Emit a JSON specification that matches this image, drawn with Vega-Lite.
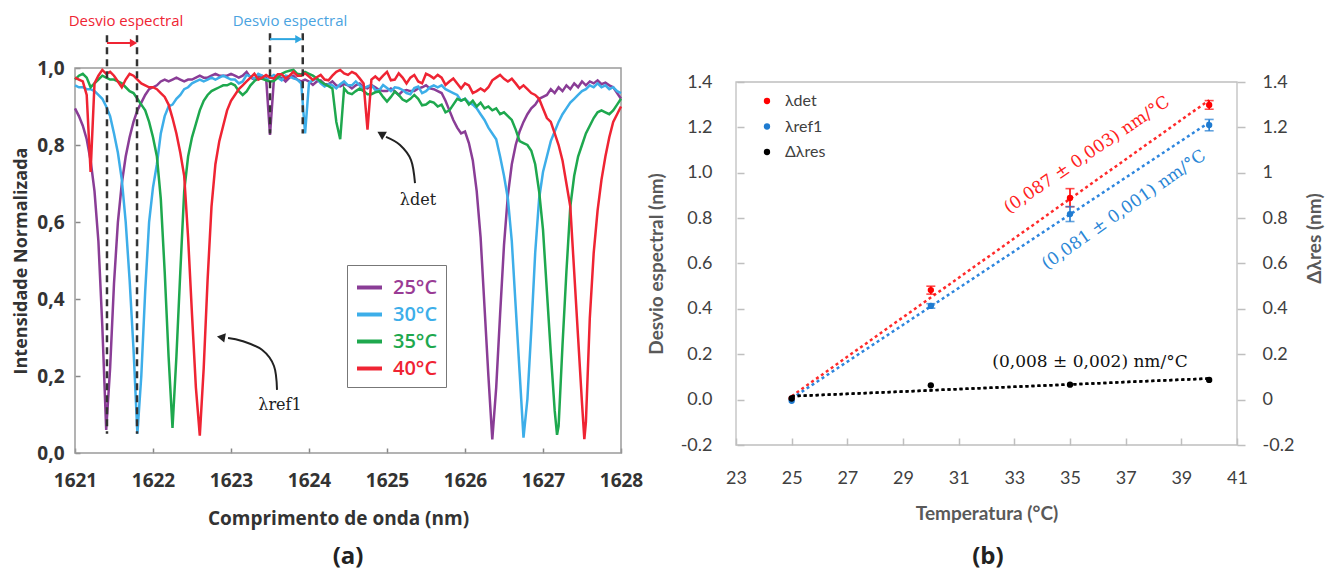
{
"$schema":"https://vega.github.io/schema/vega-lite/v6.json",
"width":1338,"height":580,"autosize":{"type":"none"},"padding":0,"background":"white",
"config":{"view":{"stroke":null},"axis":{"grid":false,"labelOverlap":false,"labelFlush":false}},
"resolve":{"scale":{"x":"independent","y":"independent","color":"independent"}},
"layer":[
{
"encoding":{
"x":{"field":"w","type":"quantitative","scale":{"domain":[1621,1628],"range":[75,621],"nice":false,"zero":false},
"axis":{"orient":"bottom","offset":-127,"values":[1621,1622,1623,1624,1625,1626,1627,1628],"format":"d","domain":false,"ticks":true,"tickSize":-5,"tickColor":"#888","tickWidth":1.5,"labelPadding":23,"labelFont":"Open Sans","labelFontSize":19,"labelFontWeight":"bold","labelColor":"#333","title":"Comprimento de onda (nm)","titleFont":"Open Sans","titleFontSize":19,"titleFontWeight":"bold","titleColor":"#333","titlePadding":19,"titleX":338}},
"y":{"field":"i","type":"quantitative","scale":{"domain":[0,1],"range":[453,68],"nice":false,"zero":false},
"axis":{"orient":"left","offset":-75,"values":[0,0.2,0.4,0.6,0.8,1],"labelExpr":"replace(format(datum.value,'.1f'),'.',',')","domain":false,"ticks":true,"tickSize":-5,"tickColor":"#888","tickWidth":1.5,"labelPadding":16,"labelFont":"Open Sans","labelFontSize":19,"labelFontWeight":"bold","labelColor":"#333","title":"Intensidade Normalizada","titleFont":"Open Sans","titleFontSize":18,"titleFontWeight":"bold","titleColor":"#333","titlePadding":6}}
},
"layer":[
{"data":{"values":[{"w":1621,"w2":1628,"i":0,"i2":1}]},"mark":{"type":"rect","filled":false,"stroke":"#9a9a9a","strokeWidth":1.5},"encoding":{"x2":{"field":"w2"},"y2":{"field":"i2"}}},
{"data":{"values":[
{"w":1621.00,"p":0.895,"b":0.955,"g":0.97,"r":0.975},
{"w":1621.05,"p":0.875,"b":0.95,"g":0.98,"r":0.97},
{"w":1621.10,"p":0.85,"b":0.95,"g":0.985,"r":0.965},
{"w":1621.15,"p":0.815,"b":0.945,"g":0.975,"r":0.93},
{"w":1621.20,"p":0.76,"b":0.945,"g":0.95,"r":0.73},
{"w":1621.25,"p":0.68,"b":0.94,"g":0.96,"r":0.96},
{"w":1621.30,"p":0.55,"b":0.93,"g":0.97,"r":0.98},
{"w":1621.35,"p":0.33,"b":0.92,"g":0.98,"r":0.995},
{"w":1621.40,"p":0.06,"b":0.90,"g":0.975,"r":0.985},
{"w":1621.45,"p":0.22,"b":0.875,"g":0.97,"r":0.99},
{"w":1621.50,"p":0.44,"b":0.83,"g":0.97,"r":0.98},
{"w":1621.55,"p":0.60,"b":0.78,"g":0.965,"r":0.965},
{"w":1621.60,"p":0.70,"b":0.71,"g":0.96,"r":0.95},
{"w":1621.65,"p":0.77,"b":0.60,"g":0.95,"r":0.97},
{"w":1621.70,"p":0.82,"b":0.45,"g":0.94,"r":0.985},
{"w":1621.75,"p":0.86,"b":0.27,"g":0.935,"r":0.98},
{"w":1621.80,"p":0.89,"b":0.05,"g":0.92,"r":0.97},
{"w":1621.85,"p":0.91,"b":0.20,"g":0.905,"r":0.96},
{"w":1621.90,"p":0.93,"b":0.42,"g":0.89,"r":0.955},
{"w":1621.95,"p":0.945,"b":0.60,"g":0.86,"r":0.95},
{"w":1622.00,"p":0.95,"b":0.69,"g":0.82,"r":0.95},
{"w":1622.05,"p":0.955,"b":0.75,"g":0.77,"r":0.945},
{"w":1622.10,"p":0.965,"b":0.83,"g":0.66,"r":0.935},
{"w":1622.15,"p":0.97,"b":0.875,"g":0.47,"r":0.925},
{"w":1622.20,"p":0.965,"b":0.90,"g":0.25,"r":0.905},
{"w":1622.25,"p":0.97,"b":0.905,"g":0.065,"r":0.87},
{"w":1622.30,"p":0.975,"b":0.92,"g":0.25,"r":0.83},
{"w":1622.35,"p":0.97,"b":0.93,"g":0.47,"r":0.78},
{"w":1622.40,"p":0.965,"b":0.945,"g":0.68,"r":0.72},
{"w":1622.45,"p":0.97,"b":0.95,"g":0.77,"r":0.56},
{"w":1622.50,"p":0.97,"b":0.96,"g":0.82,"r":0.36},
{"w":1622.55,"p":0.975,"b":0.965,"g":0.855,"r":0.17},
{"w":1622.60,"p":0.98,"b":0.97,"g":0.89,"r":0.045},
{"w":1622.65,"p":0.975,"b":0.965,"g":0.915,"r":0.22},
{"w":1622.70,"p":0.975,"b":0.97,"g":0.93,"r":0.45},
{"w":1622.75,"p":0.98,"b":0.975,"g":0.94,"r":0.64},
{"w":1622.80,"p":0.985,"b":0.97,"g":0.945,"r":0.75},
{"w":1622.85,"p":0.98,"b":0.975,"g":0.95,"r":0.81},
{"w":1622.90,"p":0.98,"b":0.98,"g":0.955,"r":0.85},
{"w":1622.95,"p":0.98,"b":0.975,"g":0.955,"r":0.89},
{"w":1623.00,"p":0.985,"b":0.97,"g":0.96,"r":0.915},
{"w":1623.05,"p":0.98,"b":0.97,"g":0.955,"r":0.93},
{"w":1623.10,"p":0.975,"b":0.96,"g":0.94,"r":0.945},
{"w":1623.15,"p":0.98,"b":0.965,"g":0.93,"r":0.955},
{"w":1623.20,"p":0.99,"b":0.982,"g":0.939,"r":0.965},
{"w":1623.25,"p":0.975,"b":0.978,"g":0.955,"r":0.975},
{"w":1623.30,"p":0.97,"b":0.972,"g":0.966,"r":0.985},
{"w":1623.35,"p":0.98,"b":0.985,"g":0.973,"r":0.97},
{"w":1623.40,"p":0.98,"b":0.98,"g":0.972,"r":0.975},
{"w":1623.45,"p":0.975,"b":0.97,"g":0.968,"r":0.982},
{"w":1623.50,"p":0.826,"b":0.975,"g":0.965,"r":0.975},
{"w":1623.55,"p":0.97,"b":0.982,"g":0.966,"r":0.973},
{"w":1623.60,"p":0.975,"b":0.975,"g":0.975,"r":0.984},
{"w":1623.65,"p":0.975,"b":0.968,"g":0.985,"r":0.984},
{"w":1623.70,"p":0.965,"b":0.98,"g":0.99,"r":0.973},
{"w":1623.75,"p":0.975,"b":0.978,"g":0.993,"r":0.98},
{"w":1623.80,"p":0.98,"b":0.973,"g":0.995,"r":0.99},
{"w":1623.85,"p":0.97,"b":0.97,"g":0.985,"r":0.98},
{"w":1623.90,"p":0.965,"b":0.96,"g":0.983,"r":0.98},
{"w":1623.95,"p":0.97,"b":0.83,"g":0.99,"r":0.986},
{"w":1624.00,"p":0.965,"b":0.962,"g":0.985,"r":0.978},
{"w":1624.05,"p":0.956,"b":0.968,"g":0.98,"r":0.969},
{"w":1624.10,"p":0.965,"b":0.973,"g":0.973,"r":0.976},
{"w":1624.15,"p":0.968,"b":0.96,"g":0.965,"r":0.982},
{"w":1624.20,"p":0.958,"b":0.952,"g":0.958,"r":0.97},
{"w":1624.25,"p":0.958,"b":0.958,"g":0.953,"r":0.968},
{"w":1624.30,"p":0.965,"b":0.955,"g":0.947,"r":0.98},
{"w":1624.35,"p":0.955,"b":0.947,"g":0.86,"r":0.99},
{"w":1624.40,"p":0.952,"b":0.958,"g":0.815,"r":0.995},
{"w":1624.45,"p":0.958,"b":0.965,"g":0.947,"r":0.986},
{"w":1624.50,"p":0.955,"b":0.955,"g":0.935,"r":0.982},
{"w":1624.55,"p":0.947,"b":0.955,"g":0.932,"r":0.99},
{"w":1624.60,"p":0.955,"b":0.965,"g":0.94,"r":0.985},
{"w":1624.65,"p":0.96,"b":0.955,"g":0.947,"r":0.973},
{"w":1624.70,"p":0.95,"b":0.947,"g":0.94,"r":0.96},
{"w":1624.75,"p":0.947,"b":0.952,"g":0.932,"r":0.84},
{"w":1624.80,"p":0.956,"b":0.956,"g":0.932,"r":0.97},
{"w":1624.85,"p":0.95,"b":0.943,"g":0.937,"r":0.978},
{"w":1624.90,"p":0.943,"b":0.942,"g":0.939,"r":0.969},
{"w":1624.95,"p":0.94,"b":0.956,"g":0.925,"r":0.98},
{"w":1625.00,"p":0.94,"b":0.948,"g":0.913,"r":0.99},
{"w":1625.05,"p":0.947,"b":0.94,"g":0.925,"r":0.968},
{"w":1625.10,"p":0.94,"b":0.95,"g":0.939,"r":0.97},
{"w":1625.15,"p":0.93,"b":0.948,"g":0.93,"r":0.986},
{"w":1625.20,"p":0.94,"b":0.943,"g":0.918,"r":0.975},
{"w":1625.25,"p":0.943,"b":0.935,"g":0.913,"r":0.96},
{"w":1625.30,"p":0.94,"b":0.932,"g":0.92,"r":0.975},
{"w":1625.35,"p":0.94,"b":0.948,"g":0.93,"r":0.982},
{"w":1625.40,"p":0.947,"b":0.952,"g":0.92,"r":0.965},
{"w":1625.45,"p":0.95,"b":0.935,"g":0.903,"r":0.96},
{"w":1625.50,"p":0.955,"b":0.94,"g":0.905,"r":0.985},
{"w":1625.55,"p":0.947,"b":0.95,"g":0.913,"r":0.98},
{"w":1625.60,"p":0.945,"b":0.955,"g":0.91,"r":0.973},
{"w":1625.65,"p":0.94,"b":0.95,"g":0.90,"r":0.982},
{"w":1625.70,"p":0.935,"b":0.955,"g":0.905,"r":0.975},
{"w":1625.75,"p":0.915,"b":0.945,"g":0.885,"r":0.956},
{"w":1625.80,"p":0.89,"b":0.94,"g":0.89,"r":0.965},
{"w":1625.85,"p":0.865,"b":0.935,"g":0.905,"r":0.973},
{"w":1625.90,"p":0.845,"b":0.93,"g":0.92,"r":0.96},
{"w":1625.95,"p":0.83,"b":0.915,"g":0.915,"r":0.947},
{"w":1626.00,"p":0.835,"b":0.92,"g":0.92,"r":0.96},
{"w":1626.05,"p":0.805,"b":0.91,"g":0.905,"r":0.955},
{"w":1626.10,"p":0.76,"b":0.905,"g":0.915,"r":0.935},
{"w":1626.15,"p":0.68,"b":0.895,"g":0.90,"r":0.94},
{"w":1626.20,"p":0.56,"b":0.88,"g":0.91,"r":0.947},
{"w":1626.25,"p":0.38,"b":0.865,"g":0.895,"r":0.94},
{"w":1626.30,"p":0.20,"b":0.845,"g":0.90,"r":0.95},
{"w":1626.35,"p":0.035,"b":0.83,"g":0.89,"r":0.968},
{"w":1626.40,"p":0.17,"b":0.815,"g":0.895,"r":0.975},
{"w":1626.45,"p":0.36,"b":0.77,"g":0.88,"r":0.982},
{"w":1626.50,"p":0.54,"b":0.72,"g":0.885,"r":0.972},
{"w":1626.55,"p":0.67,"b":0.66,"g":0.875,"r":0.965},
{"w":1626.60,"p":0.75,"b":0.55,"g":0.865,"r":0.972},
{"w":1626.65,"p":0.80,"b":0.38,"g":0.84,"r":0.96},
{"w":1626.70,"p":0.835,"b":0.21,"g":0.81,"r":0.947},
{"w":1626.75,"p":0.86,"b":0.04,"g":0.805,"r":0.955},
{"w":1626.80,"p":0.88,"b":0.14,"g":0.80,"r":0.945},
{"w":1626.85,"p":0.895,"b":0.32,"g":0.785,"r":0.935},
{"w":1626.90,"p":0.905,"b":0.52,"g":0.75,"r":0.93},
{"w":1626.95,"p":0.92,"b":0.66,"g":0.68,"r":0.92},
{"w":1627.00,"p":0.925,"b":0.73,"g":0.58,"r":0.895},
{"w":1627.05,"p":0.93,"b":0.77,"g":0.42,"r":0.87},
{"w":1627.10,"p":0.945,"b":0.81,"g":0.26,"r":0.86},
{"w":1627.15,"p":0.935,"b":0.835,"g":0.11,"r":0.83},
{"w":1627.18,"g":0.047},
{"w":1627.20,"p":0.95,"b":0.86,"g":0.07,"r":0.80},
{"w":1627.25,"p":0.94,"b":0.88,"g":0.28,"r":0.76},
{"w":1627.30,"p":0.955,"b":0.895,"g":0.47,"r":0.70},
{"w":1627.35,"p":0.945,"b":0.91,"g":0.64,"r":0.64},
{"w":1627.40,"p":0.96,"b":0.92,"g":0.72,"r":0.47},
{"w":1627.45,"p":0.95,"b":0.93,"g":0.77,"r":0.30},
{"w":1627.50,"p":0.965,"b":0.94,"g":0.80,"r":0.13},
{"w":1627.53,"r":0.036},
{"w":1627.55,"p":0.955,"b":0.945,"g":0.83,"r":0.08},
{"w":1627.60,"p":0.965,"b":0.955,"g":0.85,"r":0.35},
{"w":1627.65,"p":0.96,"b":0.95,"g":0.87,"r":0.52},
{"w":1627.70,"p":0.968,"b":0.96,"g":0.885,"r":0.63},
{"w":1627.75,"p":0.958,"b":0.95,"g":0.89,"r":0.71},
{"w":1627.80,"p":0.962,"b":0.955,"g":0.885,"r":0.77},
{"w":1627.85,"p":0.955,"b":0.945,"g":0.88,"r":0.82},
{"w":1627.90,"p":0.95,"b":0.95,"g":0.89,"r":0.86},
{"w":1627.95,"p":0.935,"b":0.94,"g":0.905,"r":0.88},
{"w":1628.00,"p":0.92,"b":0.935,"g":0.92,"r":0.90}
]},
"transform":[{"fold":["p","b","g","r"],"as":["k","i"]},{"filter":"isValid(datum.i)"}],
"mark":{"type":"line","strokeWidth":2.5},
"encoding":{"color":{"field":"k","type":"nominal","scale":{"domain":["p","b","g","r"],"range":["#8A3D96","#3DAEE9","#1EA84E","#EF2433"]},
"legend":{"orient":"none","legendX":347,"legendY":265,"title":null,"padding":8,"fillColor":"white","strokeColor":"#777","symbolType":"stroke","symbolSize":625,"symbolStrokeWidth":4,"labelFont":"Open Sans","labelFontSize":20,"labelFontWeight":600,"labelOffset":9,"rowPadding":2,
"labelExpr":"datum.label=='p'?'25°C':datum.label=='b'?'30°C':datum.label=='g'?'35°C':'40°C'",
"labelColor":{"expr":"datum.value=='p'?'#9A3C95':datum.value=='b'?'#3DAEE9':datum.value=='g'?'#1EA84E':'#EF2433'"}}}}
},
{"data":{"values":[{"w":1621.41,"i":1.085,"i2":0.05},{"w":1621.795,"i":1.085,"i2":0.05},{"w":1623.5,"i":1.09,"i2":0.83},{"w":1623.92,"i":1.09,"i2":0.83}]},
"mark":{"type":"rule","color":"#333","strokeWidth":2.5,"strokeDash":[7,5]},"encoding":{"y2":{"field":"i2"}}},
{"data":{"values":[{"w":1621.41,"w2":1621.74,"i":1.065}]},"mark":{"type":"rule","color":"#EF2433","strokeWidth":2},"encoding":{"x2":{"field":"w2"}}},
{"data":{"values":[{"w":1621.75,"i":1.065}]},"mark":{"type":"point","shape":"triangle-right","filled":true,"size":70,"color":"#EF2433","opacity":1}},
{"data":{"values":[{"w":1623.5,"w2":1623.86,"i":1.075}]},"mark":{"type":"rule","color":"#2EA6E0","strokeWidth":2},"encoding":{"x2":{"field":"w2"}}},
{"data":{"values":[{"w":1623.87,"i":1.075}]},"mark":{"type":"point","shape":"triangle-right","filled":true,"size":70,"color":"#2EA6E0","opacity":1}},
{"data":{"values":[
{"c":"d","w":1625.359,"i":0.701},{"c":"d","w":1625.308,"i":0.761},{"c":"d","w":1625.167,"i":0.800},{"c":"d","w":1624.987,"i":0.821},
{"c":"r","w":1623.59,"i":0.164},{"c":"r","w":1623.551,"i":0.226},{"c":"r","w":1623.397,"i":0.268},{"c":"r","w":1623.141,"i":0.291},{"c":"r","w":1622.962,"i":0.299}]},
"mark":{"type":"line","color":"#222","strokeWidth":2,"interpolate":"cardinal"},"encoding":{"detail":{"field":"c"}}},
{"data":{"values":[{"w":1624.923,"i":0.829}]},"mark":{"type":"point","shape":"triangle-left","angle":30,"filled":true,"size":90,"color":"#222","opacity":1}},
{"data":{"values":[{"w":1622.872,"i":0.301}]},"mark":{"type":"point","shape":"triangle-left","angle":10,"filled":true,"size":90,"color":"#222","opacity":1}},
{"data":{"values":[{"w":1621.654,"i":1.122,"s":"Desvio espectral"}]},"mark":{"type":"text","font":"Open Sans","fontSize":15,"color":"#EF2433"},"encoding":{"text":{"field":"s"}}},
{"data":{"values":[{"w":1623.756,"i":1.122,"s":"Desvio espectral"}]},"mark":{"type":"text","font":"Open Sans","fontSize":15,"color":"#4AA3DF"},"encoding":{"text":{"field":"s"}}},
{"data":{"values":[{"w":1625.397,"i":0.657,"s":"λdet"},{"w":1623.628,"i":0.125,"s":"λref1"}]},"mark":{"type":"text","font":"DejaVu Serif","fontSize":16,"color":"#222"},"encoding":{"text":{"field":"s"}}},
{"data":{"values":[{"w":1624.5,"i":-0.27,"s":"(a)"}]},"mark":{"type":"text","font":"Open Sans","fontSize":24,"fontWeight":"bold","color":"#222"},"encoding":{"text":{"field":"s"}}}
]
},
{
"resolve":{"scale":{"x":"independent","y":"independent"}},
"layer":[
{
"encoding":{
"x":{"field":"t","type":"quantitative","scale":{"domain":[23,41],"range":[736,1237],"nice":false,"zero":false},
"axis":{"orient":"bottom","offset":-135,"values":[23,25,27,29,31,33,35,37,39,41],"format":"d","domain":false,"ticks":true,"tickSize":-7,"tickColor":"#BFBFBF","tickWidth":1.5,"labelPadding":31,"labelFont":"Lato","labelFontSize":18,"labelColor":"#404040","title":"Temperatura (°C)","titleFont":"Lato","titleFontSize":19,"titleFontWeight":"bold","titleColor":"#595959","titlePadding":17}},
"y":{"field":"v","type":"quantitative","scale":{"domain":[-0.2,1.4],"range":[445,82],"nice":false,"zero":false},
"axis":{"orient":"left","offset":-737,"values":[-0.2,0,0.2,0.4,0.6,0.8,1,1.2,1.4],"labelExpr":"replace(format(datum.value,'.1f'),'−','-')","domain":false,"ticks":true,"tickSize":-7,"tickColor":"#BFBFBF","tickWidth":1.5,"labelPadding":32,"labelFont":"Lato","labelFontSize":18,"labelColor":"#404040","title":"Desvio espectral (nm)","titleFont":"Lato","titleFontSize":19,"titleFontWeight":"bold","titleColor":"#595959","titlePadding":14}}
},
"layer":[
{"data":{"values":[{"t":23,"t2":41,"v":-0.2,"v2":1.4}]},"mark":{"type":"rect","filled":false,"stroke":"#BFBFBF","strokeWidth":1.3},"encoding":{"x2":{"field":"t2"},"y2":{"field":"v2"}}},
{"data":{"values":[{"t":25,"v":0.015},{"t":40,"v":1.32}]},"mark":{"type":"line","strokeWidth":2.5,"strokeDash":[3,3],"color":"#FF2A2A"}},
{"data":{"values":[{"t":25,"v":0.005},{"t":40,"v":1.222}]},"mark":{"type":"line","strokeWidth":2.5,"strokeDash":[3,3],"color":"#2E86DE"}},
{"data":{"values":[{"t":25,"v":0.015},{"t":40,"v":0.093}]},"mark":{"type":"line","strokeWidth":2.5,"strokeDash":[3,3],"color":"#000000"}},
{"data":{"values":[{"t":30,"v":0.465,"v2":0.5},{"t":35,"v":0.85,"v2":0.93},{"t":40,"v":1.28,"v2":1.318}]},
"mark":{"type":"errorbar","ticks":{"size":9},"thickness":1.6,"color":"#FF0000"},"encoding":{"y2":{"field":"v2"}}},
{"data":{"values":[{"t":30,"v":0.403,"v2":0.423},{"t":35,"v":0.785,"v2":0.851},{"t":40,"v":1.185,"v2":1.235}]},
"mark":{"type":"errorbar","ticks":{"size":9},"thickness":1.6,"color":"#1F7BD0"},"encoding":{"y2":{"field":"v2"}}},
{"data":{"values":[{"s":"λdet","t":25,"v":0.005},{"s":"λdet","t":30,"v":0.483},{"s":"λdet","t":35,"v":0.889},{"s":"λdet","t":40,"v":1.299},{"s":"λref1","t":25,"v":-0.005},{"s":"λref1","t":30,"v":0.413},{"s":"λref1","t":35,"v":0.818},{"s":"λref1","t":40,"v":1.21},{"s":"Δλres","t":25,"v":0.005},{"s":"Δλres","t":30,"v":0.063},{"s":"Δλres","t":35,"v":0.066},{"s":"Δλres","t":40,"v":0.087}]},
"mark":{"type":"point","filled":true,"size":40,"opacity":1},
"encoding":{"color":{"field":"s","type":"nominal","scale":{"domain":["λdet","λref1","Δλres"],"range":["#FF0000","#1F7BD0","#000000"]},
"legend":{"orient":"none","legendX":759,"legendY":93,"title":null,"padding":0,"symbolType":"circle","symbolSize":40,"labelFont":"Lato","labelFontSize":16,"labelColor":"#404040","labelOffset":10,"rowPadding":9.5}}}},
{"data":{"values":[{"t":35.61,"v":1.078,"s":"(0,087 ± 0,003) nm/°C"}]},"mark":{"type":"text","angle":326,"font":"DejaVu Serif","fontSize":17,"color":"#FF2020"},"encoding":{"text":{"field":"s"}}},
{"data":{"values":[{"t":36.94,"v":0.836,"s":"(0,081 ± 0,001) nm/°C"}]},"mark":{"type":"text","angle":325,"font":"DejaVu Serif","fontSize":17,"color":"#2A86D6"},"encoding":{"text":{"field":"s"}}},
{"data":{"values":[{"t":35.72,"v":0.166,"s":"(0,008 ± 0,002) nm/°C"}]},"mark":{"type":"text","font":"DejaVu Serif","fontSize":17,"color":"#111"},"encoding":{"text":{"field":"s"}}},
{"data":{"values":[{"t":32.05,"v":-0.694,"s":"(b)"}]},"mark":{"type":"text","font":"Open Sans","fontSize":24,"fontWeight":"bold","color":"#222"},"encoding":{"text":{"field":"s"}}}
]
},
{
"data":{"values":[{"t":25,"v":0.015},{"t":40,"v":0.093}]},
"mark":{"type":"line","strokeWidth":2.5,"strokeDash":[3,3],"color":"#000000"},
"encoding":{
"x":{"field":"t","type":"quantitative","scale":{"domain":[23,41],"range":[736,1237],"nice":false,"zero":false},"axis":null},
"y":{"field":"v","type":"quantitative","scale":{"domain":[-0.2,1.4],"range":[445,82],"nice":false,"zero":false},
"axis":{"orient":"right","offset":-101,"values":[-0.2,0,0.2,0.4,0.6,0.8,1,1.2,1.4],"labelExpr":"replace(format(datum.value,'~g'),'−','-')","domain":false,"ticks":true,"tickSize":8,"tickColor":"#BFBFBF","tickWidth":1.5,"labelPadding":17,"labelFont":"Lato","labelFontSize":18,"labelColor":"#404040","title":"Δλres (nm)","titleFont":"Lato","titleFontSize":19,"titleFontWeight":"bold","titleColor":"#595959","titlePadding":12,"titleAngle":270,"titleBaseline":"top","titleY":238}}
}
}
]
}
]
}
